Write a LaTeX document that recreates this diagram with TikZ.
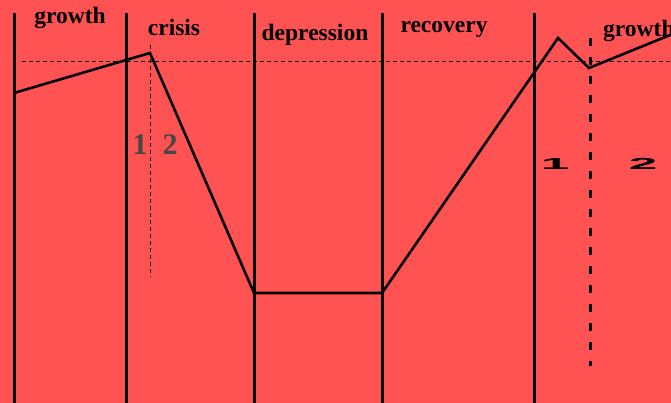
\documentclass[tikz,border=0pt]{standalone}
\usepackage{fontspec}
\setmainfont{Liberation Serif}
\setsansfont{Liberation Sans}
\usepackage{tikz}
\usetikzlibrary{positioning}
\definecolor{bgred}{RGB}{255,82,82}

\begin{document}
\begin{tikzpicture}[x=1pt, y=-1pt,
  phase/.style={font=\fontsize{23.5}{25}\selectfont\bfseries, inner sep=0pt},
  sep/.style={line width=3pt},
  curve/.style={line width=2.6pt, line join=miter},
  level/.style={line width=0.8pt, dash pattern=on 4pt off 3pt},
  thinmark/.style={line width=0.8pt, dash pattern=on 4pt off 3pt},
  thickmark/.style={line width=3pt, dash pattern=on 8pt off 11pt},
  grey/.style={font=\fontsize{30}{32}\selectfont\bfseries,
               text=gray!55!black, inner sep=0pt},
  flat/.style={inner sep=0pt}]
\fill[bgred] (0,0) rectangle (671,403);
\useasboundingbox (0,0) rectangle (671,403);
% phase borders
\foreach \x/\n in {14/s0, 126/s1, 254/s2, 382/s3, 534/s4}
  \draw[sep] (\x,13) coordinate (\n) -- (\x,403);
% level line
\coordinate (l0) at (22,61);
\coordinate (l1) at (671,61);
\draw[level] (l0) -- (l1);
% markers
\coordinate (m0) at (150,45);
\coordinate (m1) at (150,277);
\draw[thinmark] (m0) -- (m1);
\coordinate (k0) at (590,38);
\coordinate (k1) at (590,366);
\draw[thickmark] (k0) -- (k1);
% cycle curve
\coordinate (c0) at (14,93);
\coordinate (c1) at (150,53);
\coordinate (c2) at (254,293);
\coordinate (c3) at (382,293);
\coordinate (c4) at (558,38);
\coordinate (c5) at (589,68);
\coordinate (c6) at (680,31);
\draw[curve] (c0) -- (c1) -- (c2) -- (c3) -- (c4) -- (c5) -- (c6);
% labels
\node[phase] (g1) at (70,18) {growth};
\node[phase] (cr) at (174,27) {crisis};
\node[phase] (de) at (315,35) {depression};
\node[phase] (re) at (444,29) {recovery};
\node[phase, anchor=west] (g2) at (603,31) {growth};
\node[grey] (a1) at (140,145) {1};
\node[grey] (a2) at (170,145) {2};
\node[flat] (b1) at (555,164)
  {\scalebox{3.2}[1]{\fontsize{16}{17}\selectfont\sffamily\bfseries 1}};
\node[flat] (b2) at (643,164)
  {\scalebox{3.2}[1]{\fontsize{16}{17}\selectfont\sffamily\bfseries 2}};
\end{tikzpicture}
\end{document}
